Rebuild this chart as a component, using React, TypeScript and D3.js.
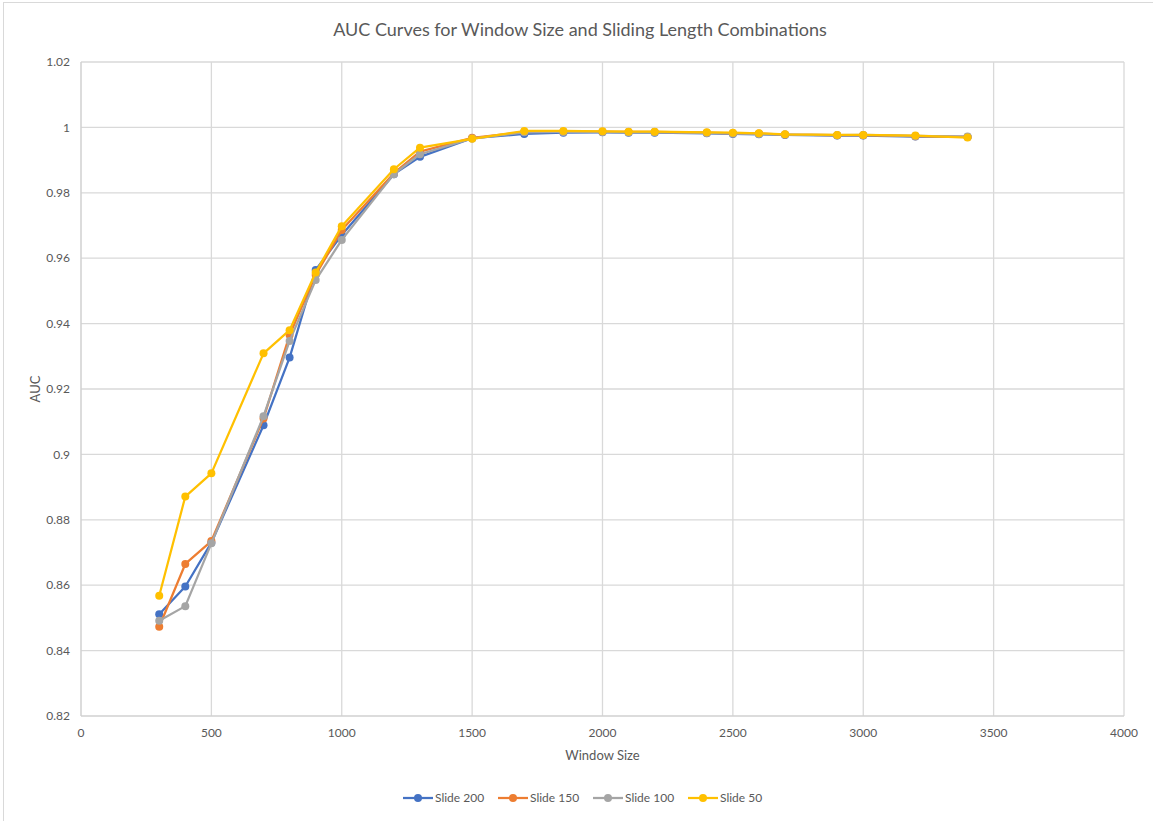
import React from "react";
import * as d3 from "d3";

const windowSizes = [300, 400, 500, 700, 800, 900, 1000, 1200, 1300, 1500, 1700, 1850, 2000, 2100, 2200, 2400, 2500, 2600, 2700, 2900, 3000, 3200, 3400];

const slide200 = [0.8511, 0.8596, 0.8730, 0.9089, 0.9296, 0.9564, 0.9671, 0.9857, 0.9910, 0.9967, 0.9980, 0.9984, 0.9985, 0.9984, 0.9984, 0.9982, 0.9980, 0.9979, 0.9977, 0.9975, 0.9975, 0.9972, 0.9971];
const slide150 = [0.8473, 0.8665, 0.8735, 0.9110, 0.9365, 0.9549, 0.9686, 0.9860, 0.9926, 0.9968, 0.9986, 0.9987, 0.9987, 0.9986, 0.9986, 0.9984, 0.9982, 0.9981, 0.9978, 0.9976, 0.9976, 0.9973, 0.9971];
const slide100 = [0.8491, 0.8536, 0.8728, 0.9117, 0.9347, 0.9533, 0.9656, 0.9857, 0.9918, 0.9966, 0.9985, 0.9986, 0.9986, 0.9985, 0.9985, 0.9983, 0.9981, 0.9980, 0.9978, 0.9976, 0.9977, 0.9974, 0.9972];
const slide50 = [0.8568, 0.8871, 0.8942, 0.9309, 0.9380, 0.9556, 0.9698, 0.9872, 0.9938, 0.9965, 0.9989, 0.9989, 0.9988, 0.9987, 0.9987, 0.9985, 0.9984, 0.9982, 0.9979, 0.9977, 0.9977, 0.9975, 0.9969];

const seriesNames = ["Slide 200", "Slide 150", "Slide 100", "Slide 50"];
const seriesColors = ["#4472C4", "#ED7D31", "#A5A5A5", "#FFC000"];
const seriesValues = [slide200, slide150, slide100, slide50];

const xTicks = [0, 500, 1000, 1500, 2000, 2500, 3000, 3500, 4000];
const yTicks = [0.82, 0.84, 0.86, 0.88, 0.9, 0.92, 0.94, 0.96, 0.98, 1, 1.02];

const W = 1153;
const H = 821;
const FONT = "Lato, 'Open Sans', sans-serif";

export default function App() {
  const x = d3.scaleLinear().domain([0, 4000]).range([81, 1124]);
  const y = d3.scaleLinear().domain([0.82, 1.02]).range([716, 62]);
  const line = d3
    .line<[number, number]>()
    .x((d) => x(d[0]))
    .y((d) => y(d[1]));

  const fmtY = (v: number) => String(+v.toFixed(2));

  return (
    <svg
      width={W}
      height={H}
      style={{ position: "absolute", left: 0, top: 0, background: "#fff" }}
      fontFamily={FONT}
    >
      <rect x={3.5} y={2.5} width={W + 10} height={H + 10} fill="#fff" stroke="#d9d9d9" />
      {/* gridlines */}
      {xTicks.slice(1).map((t) => (
        <line key={"gx" + t} x1={x(t)} x2={x(t)} y1={y(1.02)} y2={y(0.82)} stroke="#d9d9d9" strokeWidth={1.3} />
      ))}
      {yTicks.slice(1).map((t) => (
        <line key={"gy" + t} x1={x(0)} x2={x(4000)} y1={y(t)} y2={y(t)} stroke="#d9d9d9" strokeWidth={1.3} />
      ))}
      {/* axes */}
      <line x1={x(0)} x2={x(0)} y1={y(1.02)} y2={y(0.82)} stroke="#d0d0d0" strokeWidth={1.5} />
      <line x1={x(0)} x2={x(4000)} y1={y(0.82)} y2={y(0.82)} stroke="#d0d0d0" strokeWidth={1.5} />
      {/* tick labels */}
      {yTicks.map((t) => (
        <text key={"ty" + t} x={70} y={y(t)} dy="0.35em" textAnchor="end" fontSize={12} fill="#595959">
          {fmtY(t)}
        </text>
      ))}
      {xTicks.map((t) => (
        <text key={"tx" + t} x={x(t)} y={733} dy="0.35em" textAnchor="middle" fontSize={12} fill="#595959">
          {t}
        </text>
      ))}
      {/* axis titles */}
      <text x={(x(0) + x(4000)) / 2} y={755} dy="0.35em" textAnchor="middle" fontSize={13} fill="#595959">
        Window Size
      </text>
      <text
        transform={`translate(35, ${(y(0.82) + y(1.02)) / 2}) rotate(-90)`}
        dy="0.35em"
        textAnchor="middle"
        fontSize={13}
        fill="#595959"
      >
        AUC
      </text>
      {/* title */}
      <text x={580} y={30} dy="0.35em" textAnchor="middle" fontSize={18} fill="#595959">
        AUC Curves for Window Size and Sliding Length Combinations
      </text>
      {/* series */}
      {seriesValues.map((vals, i) => {
        const pts: [number, number][] = windowSizes.map((w, j) => [w, vals[j]]);
        return (
          <g key={seriesNames[i]}>
            <path d={line(pts) || ""} fill="none" stroke={seriesColors[i]} strokeWidth={2.25} strokeLinejoin="round" />
            {pts.map((p, j) => (
              <circle key={j} cx={x(p[0])} cy={y(p[1])} r={4} fill={seriesColors[i]} />
            ))}
          </g>
        );
      })}
      {/* legend */}
      {seriesNames.map((n, i) => {
        const lx = 403 + i * 95;
        const ly = 798;
        return (
          <g key={"lg" + n}>
            <line x1={lx} x2={lx + 30} y1={ly} y2={ly} stroke={seriesColors[i]} strokeWidth={2.25} />
            <circle cx={lx + 15} cy={ly} r={4} fill={seriesColors[i]} />
            <text x={lx + 32} y={ly} dy="0.35em" fontSize={12} fill="#595959">
              {n}
            </text>
          </g>
        );
      })}
    </svg>
  );
}
